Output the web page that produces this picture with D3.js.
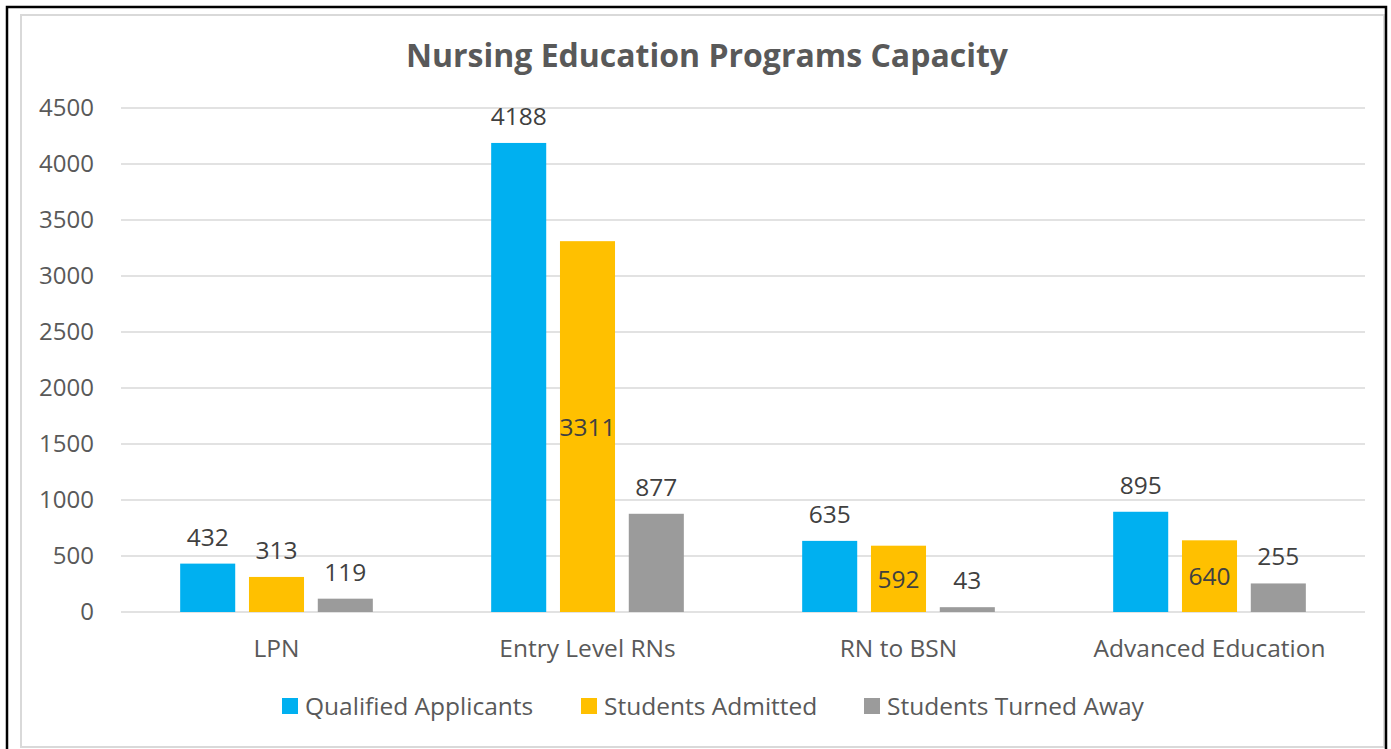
<!DOCTYPE html>
<html>
<head>
<meta charset="utf-8">
<script src="https://cdn.jsdelivr.net/npm/d3@7"></script>
<style>
  body { margin: 0; background: #fff; }
  svg { display: block; font-family: "Open Sans", "Noto Sans", sans-serif; }
</style>
</head>
<body>
<svg id="chart" width="1391" height="749"></svg>
<script>
const categories = ["LPN", "Entry Level RNs", "RN to BSN", "Advanced Education"];
const seriesNames = ["Qualified Applicants", "Students Admitted", "Students Turned Away"];
const qualified = [432, 4188, 635, 895];
const admitted = [313, 3311, 592, 640];
const turnedAway = [119, 877, 43, 255];
// where Excel put each data label: "end" = above bar, "center" = inside
const admittedLabelPos = ["end", "center", "center", "center"];
const yTicks = [0, 500, 1000, 1500, 2000, 2500, 3000, 3500, 4000, 4500];

const colors = ["#00B0F0", "#FFC000", "#9B9B9B"];
const textColor = "#595959";

const svg = d3.select("#chart");

// frame
svg.append("rect")
  .attr("x", 21).attr("y", 15).attr("width", 1363).attr("height", 732)
  .attr("fill", "none").attr("stroke", "#d9d9d9").attr("stroke-width", 2);
svg.append("path")
  .attr("d", "M7,760 V7 H1386 V760")
  .attr("fill", "none").attr("stroke", "#000").attr("stroke-width", 2.5);

const plot = { left: 121, right: 1365, top: 108, bottom: 612 };

const x0 = d3.scaleBand().domain(categories).range([plot.left, plot.right]);
const x1 = d3.scaleBand()
  .domain(seriesNames)
  .range([0, x0.bandwidth()])
  .paddingInner(0.2)
  .paddingOuter(0.86);
const y = d3.scaleLinear().domain([0, 4500]).range([plot.bottom, plot.top]);

// gridlines
svg.append("g")
  .selectAll("line")
  .data(yTicks)
  .join("line")
  .attr("x1", plot.left).attr("x2", plot.right)
  .attr("y1", (d) => y(d)).attr("y2", (d) => y(d))
  .attr("stroke", "#d9d9d9").attr("stroke-width", 1.5);

// y axis labels
const yAxis = svg.append("g")
  .attr("transform", `translate(${plot.left},0)`)
  .call(
    d3.axisLeft(y).tickValues(yTicks).tickFormat(d3.format("d"))
      .tickSize(0).tickPadding(27)
  );
yAxis.select(".domain").remove();
yAxis.selectAll("text")
  .attr("font-family", "Open Sans, Noto Sans, sans-serif")
  .attr("font-size", 24).attr("fill", textColor);

// title
svg.append("text")
  .attr("x", 707).attr("y", 67)
  .attr("text-anchor", "middle")
  .attr("font-size", 32).attr("font-weight", "bold")
  .attr("fill", textColor)
  .text("Nursing Education Programs Capacity");

// bars
const series = [qualified, admitted, turnedAway];
const rows = [];
series.forEach((vals, si) => {
  vals.forEach((v, ci) => {
    rows.push({
      cat: categories[ci],
      name: seriesNames[si],
      value: v,
      color: colors[si],
      pos: si === 1 ? admittedLabelPos[ci] : "end",
    });
  });
});

svg.append("g")
  .selectAll("rect")
  .data(rows)
  .join("rect")
  .attr("x", (d) => x0(d.cat) + x1(d.name))
  .attr("y", (d) => y(d.value))
  .attr("width", x1.bandwidth())
  .attr("height", (d) => y(0) - y(d.value))
  .attr("fill", (d) => d.color);

// data labels
svg.append("g")
  .selectAll("text")
  .data(rows)
  .join("text")
  .attr("x", (d) => x0(d.cat) + x1(d.name) + x1.bandwidth() / 2)
  .attr("y", (d) =>
    d.pos === "center" ? y(d.value / 2) + 9 : y(d.value) - 18
  )
  .attr("text-anchor", "middle")
  .attr("font-size", 24.5)
  .attr("fill", "#404040")
  .text((d) => d.value);

// category labels
svg.append("g")
  .selectAll("text")
  .data(categories)
  .join("text")
  .attr("x", (d) => x0(d) + x0.bandwidth() / 2)
  .attr("y", 657)
  .attr("text-anchor", "middle")
  .attr("font-size", 24.5)
  .attr("fill", textColor)
  .text((d) => d);

// legend
const legendX = [282, 581, 864];
const legend = svg.append("g")
  .selectAll("g")
  .data(seriesNames)
  .join("g")
  .attr("transform", (d, i) => `translate(${legendX[i]},0)`);
legend.append("rect")
  .attr("x", 0).attr("y", 698).attr("width", 16).attr("height", 16)
  .attr("fill", (d, i) => colors[i]);
legend.append("text")
  .attr("x", 23).attr("y", 715)
  .attr("font-size", 24.5)
  .attr("fill", textColor)
  .text((d) => d);
</script>
</body>
</html>
